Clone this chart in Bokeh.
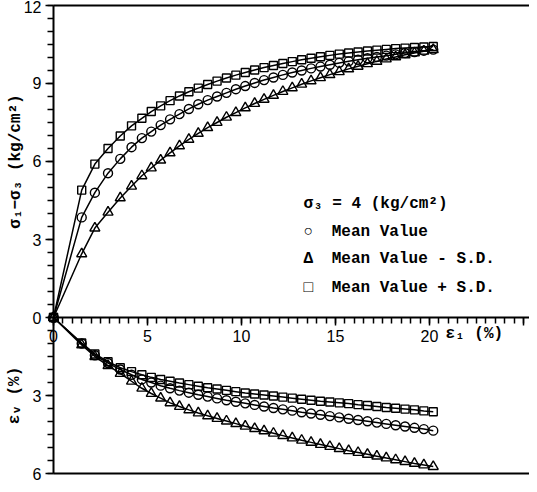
from bokeh.plotting import figure
from bokeh.models import Range1d, FixedTicker, Label, LinearAxis
from bokeh.embed import file_html
from bokeh.resources import INLINE

# axial strain (%)
strain = [0, 1.5, 2.2, 2.9, 3.55, 4.15, 4.7, 5.2, 5.7, 6.2, 6.7, 7.2, 7.7, 8.2, 8.7, 9.2, 9.7,
          10.2, 10.7, 11.2, 11.7, 12.2, 12.7, 13.2, 13.7, 14.2, 14.7, 15.2, 15.7, 16.2, 16.7,
          17.2, 17.7, 18.2, 18.7, 19.2, 19.7, 20.2]

# deviator stress sigma1 - sigma3 (kg/cm2)
dev_mean = [0, 3.85, 4.8, 5.55, 6.1, 6.55, 6.9, 7.15, 7.4, 7.62, 7.82, 8.02, 8.2, 8.36, 8.5, 8.64,
            8.78, 8.9, 9.02, 9.13, 9.23, 9.33, 9.42, 9.5, 9.58, 9.65, 9.72, 9.79, 9.85, 9.91, 9.97,
            10.02, 10.07, 10.12, 10.17, 10.21, 10.26, 10.3]
dev_minus = [0, 2.45, 3.44, 4.05, 4.6, 5.05, 5.45, 5.75, 6.05, 6.33, 6.6, 6.85, 7.08, 7.3, 7.5, 7.7,
             7.88, 8.06, 8.23, 8.39, 8.54, 8.69, 8.83, 8.97, 9.1, 9.22, 9.34, 9.45, 9.56, 9.66, 9.76,
             9.85, 9.94, 10.02, 10.1, 10.17, 10.24, 10.3]
dev_plus = [0, 4.9, 5.9, 6.5, 6.98, 7.37, 7.66, 7.92, 8.14, 8.34, 8.52, 8.68, 8.82, 8.96, 9.09, 9.21,
            9.32, 9.42, 9.52, 9.61, 9.69, 9.77, 9.84, 9.91, 9.97, 10.03, 10.08, 10.13, 10.17, 10.21,
            10.25, 10.28, 10.31, 10.34, 10.36, 10.38, 10.4, 10.42]

# volumetric strain (%)
vol_mean = [0, 1.0, 1.45, 1.75, 2.0, 2.2, 2.38, 2.5, 2.62, 2.72, 2.81, 2.89, 2.97, 3.04, 3.11, 3.18,
            3.24, 3.3, 3.36, 3.42, 3.48, 3.53, 3.58, 3.64, 3.69, 3.74, 3.79, 3.84, 3.89, 3.94, 3.99,
            4.04, 4.09, 4.14, 4.19, 4.24, 4.29, 4.35]
vol_minus = [0, 1.05, 1.5, 1.85, 2.15, 2.45, 2.72, 2.92, 3.1, 3.28, 3.42, 3.55, 3.67, 3.78, 3.88, 3.98,
             4.08, 4.18, 4.27, 4.36, 4.45, 4.54, 4.63, 4.72, 4.8, 4.88, 4.96, 5.04, 5.12, 5.19, 5.26,
             5.33, 5.4, 5.47, 5.54, 5.61, 5.67, 5.73]
vol_plus = [0, 0.98, 1.4, 1.7, 1.93, 2.08, 2.2, 2.3, 2.38, 2.45, 2.52, 2.58, 2.64, 2.7, 2.75, 2.8,
            2.85, 2.9, 2.94, 2.98, 3.02, 3.06, 3.1, 3.14, 3.18, 3.22, 3.25, 3.28, 3.31, 3.35, 3.38,
            3.42, 3.46, 3.49, 3.52, 3.55, 3.59, 3.62]

x_ticks = [0, 5, 10, 15, 20, 25]
x_tick_labels = ["0", "5", "10", "15", "20", ""]
dev_ticks = [0, 3, 6, 9, 12]
vol_ticks = [3, 6]

dev_label = "σ₁−σ₃ (kg/cm²)"
vol_label = "εᵥ (%)"
strain_label = "ε₁ (%)"
legend_title = "σ₃ = 4 (kg/cm²)"
series_names = ["Mean Value", "Mean Value - S.D.", "Mean Value + S.D."]
legend_symbols = ["○", "Δ", "□"]

p = figure(width=529, height=484, x_range=Range1d(-2.82, 25.32), y_range=Range1d(-6.42, 12.19),
           output_backend="svg", toolbar_location=None,
           min_border_left=0, min_border_right=0, min_border_top=0, min_border_bottom=0)
p.extra_y_ranges = {"ev": Range1d(6.42, -12.19)}
p.grid.visible = False
p.outline_line_color = None
p.background_fill_color = "white"
p.border_fill_color = "white"

# x axis on the zero line
xa = p.xaxis[0]
xa.fixed_location = 0
xa.bounds = (0, 26)
xa.ticker = FixedTicker(ticks=x_ticks, minor_ticks=[i * 0.5 for i in range(52)])
xa.major_label_overrides = dict(zip(x_ticks, x_tick_labels))

ya = p.yaxis[0]
ya.fixed_location = 0
ya.bounds = (0, 12)
ya.ticker = FixedTicker(ticks=dev_ticks, minor_ticks=[i * 0.5 for i in range(25)])
ya.axis_label = dev_label
ya.axis_label_standoff = -4

yb = LinearAxis(y_range_name="ev", fixed_location=0, bounds=(0, 6),
                ticker=FixedTicker(ticks=vol_ticks, minor_ticks=[i * 0.5 for i in range(13)]),
                axis_label=vol_label, axis_label_standoff=6)
p.add_layout(yb, "left")

for ax in (xa, ya, yb):
    ax.axis_line_width = 2
    ax.axis_line_color = "black"
    ax.major_tick_in = 0
    ax.major_tick_out = 8
    ax.minor_tick_in = 0
    ax.minor_tick_out = 6
    ax.major_tick_line_width = 1.5
    ax.minor_tick_line_width = 1.5
    ax.major_tick_line_color = "black"
    ax.minor_tick_line_color = "black"
    ax.major_label_text_font = "Liberation Sans"
    ax.major_label_text_font_size = "16px"
    ax.major_label_text_color = "black"
    ax.major_label_standoff = 4
    ax.axis_label_text_font = "Liberation Mono"
    ax.axis_label_text_font_size = "16px"
    ax.axis_label_text_font_style = "bold"
    ax.axis_label_text_color = "black"

# top and bottom frame lines (axis lines only)
for loc, side in ((12, "above"), (-6, "below")):
    frame_axis = LinearAxis(fixed_location=loc, bounds=(0, 26),
                            ticker=FixedTicker(ticks=[], minor_ticks=[]),
                            axis_line_width=2, axis_line_color="black",
                            major_label_text_font_size="0px")
    p.add_layout(frame_axis, side)

markers = ["circle", "triangle", "square"]
sizes = [9, 10, 8]
for ys, m, s in zip([dev_mean, dev_minus, dev_plus], markers, sizes):
    p.line(strain, ys, line_color="black", line_width=1.5)
    p.scatter(strain, ys, marker=m, size=s, fill_color=None, line_color="black", line_width=1.4)
for ys, m, s in zip([vol_mean, vol_minus, vol_plus], markers, sizes):
    p.line(strain, ys, line_color="black", line_width=1.5, y_range_name="ev")
    p.scatter(strain, ys, marker=m, size=s, fill_color=None, line_color="black", line_width=1.4,
              y_range_name="ev")

font = "Liberation Mono"
def lab(x, y, text, **kw):
    d = dict(x=x, y=y, text=text, text_font=font, text_font_size="16px", text_font_style="bold",
             text_color="black", text_baseline="middle", text_align="left")
    d.update(kw)
    p.add_layout(Label(**d))

lab(13.3, 4.35, legend_title)
for row_y, sym, name in zip([3.3, 2.25, 1.15], legend_symbols, series_names):
    lab(13.3, row_y, sym)
    lab(14.8, row_y, name)

lab(20.85, -0.65, strain_label)

open("out.html", "w").write(file_html(p, INLINE))
